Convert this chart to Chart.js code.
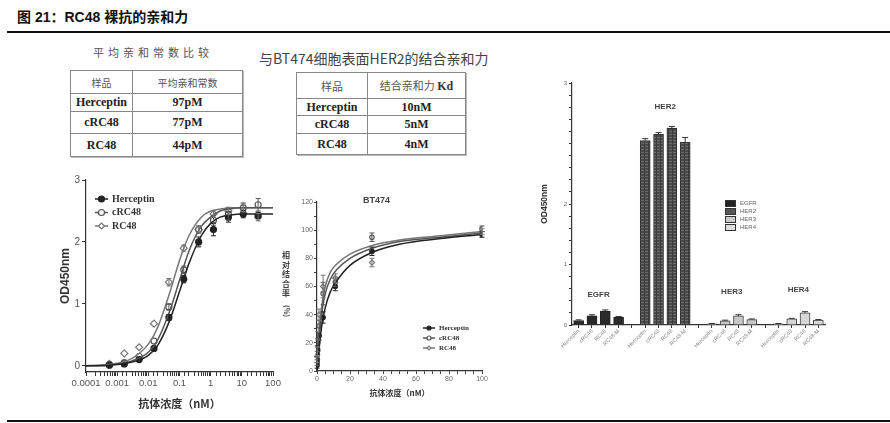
<!DOCTYPE html>
<html>
<head>
<meta charset="utf-8">
<script src="https://cdn.jsdelivr.net/npm/chart.js@4.4.0/dist/chart.umd.min.js"></script>
<style>
  body { margin: 0; background: #fff; }
  #page { position: relative; width: 890px; height: 423px; overflow: hidden; font-family: "Liberation Sans", "Noto Sans CJK SC", sans-serif; }
  .abs { position: absolute; }
  #fig-title { left: 17px; top: 6px; font-size: 14px; font-weight: bold; color: #111; white-space: nowrap; }
  #top-rule { left: 7px; top: 31px; width: 883px; height: 2px; background: #111; }
  #bottom-rule { left: 7px; top: 420px; width: 883px; height: 2px; background: #111; }
  .tbl-title { color: #555; white-space: nowrap; font-family: "Noto Sans CJK SC", sans-serif; }
  table.aff { position: absolute; border-collapse: collapse; table-layout: fixed; border: 1.5px solid #666; box-shadow: 1px 1px 0 #bbb; }
  table.aff td { border: 1px solid #888; text-align: center; padding: 0; color: #222; }
  table.aff td.h { font-family: "Noto Sans CJK SC", sans-serif; color: #555; font-size: 10px; }
  table.aff td.v { font-family: "Liberation Serif", serif; font-weight: bold; font-size: 12px; }
  .box { position: absolute; }
  .vlabel { font-family: "Noto Sans CJK SC", sans-serif; font-weight: bold; font-size: 8px; color: #444; width: 10px; text-align: center; line-height: 9.5px; }
  #bar-legend { font-size: 6px; color: #666; line-height: 8px; }
  #bar-legend span.sw { display: inline-block; width: 9px; height: 5px; border: 1px solid #333; margin-right: 4px; vertical-align: middle; }
</style>
</head>
<body>
<div id="page">
  <div id="fig-title" class="abs">图 21：RC48 裸抗的亲和力</div>
  <div id="top-rule" class="abs"></div>
  <div id="bottom-rule" class="abs"></div>

  <div class="abs tbl-title" style="left:93px;top:44px;font-size:11px;letter-spacing:4px;">平均亲和常数比较</div>
  <table class="aff" style="left:70px;top:70px;width:173px;height:86px;">
    <colgroup><col style="width:62px"><col></colgroup>
    <tr style="height:23px"><td class="h">样品</td><td class="h">平均亲和常数</td></tr>
    <tr style="height:18px"><td class="v">Herceptin</td><td class="v">97pM</td></tr>
    <tr style="height:22px"><td class="v">cRC48</td><td class="v">77pM</td></tr>
    <tr style="height:23px"><td class="v">RC48</td><td class="v">44pM</td></tr>
  </table>

  <div class="abs tbl-title" style="left:259px;top:48px;font-size:14px;color:#444;">与BT474细胞表面HER2的结合亲和力</div>
  <table class="aff" style="left:296px;top:72px;width:170px;height:82px;">
    <colgroup><col style="width:71px"><col></colgroup>
    <tr style="height:26px"><td class="h" style="font-size:11px">样品</td><td class="h" style="font-size:11px">结合亲和力 <b style="font-family:'Liberation Serif';color:#333;font-size:12px">Kd</b></td></tr>
    <tr style="height:17px"><td class="v">Herceptin</td><td class="v">10nM</td></tr>
    <tr style="height:18px"><td class="v">cRC48</td><td class="v">5nM</td></tr>
    <tr style="height:21px"><td class="v">RC48</td><td class="v">4nM</td></tr>
  </table>

  <div class="box" style="left:58px;top:172px;width:227px;height:238px;"><canvas id="odChart"></canvas></div>

  <div class="box" style="left:295px;top:195px;width:205px;height:203px;"><canvas id="btChart"></canvas></div>
  <div class="abs" style="left:363px;top:195px;font-size:9px;font-weight:bold;color:#444;">BT474</div>
  <div class="abs vlabel" style="left:281px;top:250px;">相<br>对<br>结<br>合<br>率</div>
  <div class="abs vlabel" style="left:281px;top:305px;font-size:7px;writing-mode:vertical-rl;">(%)</div>

  <div class="box" style="left:540px;top:75px;width:300px;height:290px;"><canvas id="barChart"></canvas></div>
  <div id="bar-legend" class="abs" style="left:725px;top:199px;">
    <div><span class="sw" style="background:#222"></span>EGFR</div>
    <div><span class="sw" style="background:#555"></span>HER2</div>
    <div><span class="sw" style="background:#ccc"></span>HER3</div>
    <div><span class="sw" style="background:#ddd"></span>HER4</div>
  </div>
</div>

<script>
// ---- data: left panel, OD450 vs antibody concentration ----
const seriesNames = ["Herceptin", "cRC48", "RC48"];
const odConc = [0.000564, 0.00169, 0.00508, 0.0152, 0.0457, 0.137, 0.412, 1.23, 3.70, 11.1, 33.3];
const odHerceptin = [0.01, 0.03, 0.10, 0.28, 0.78, 1.40, 2.00, 2.20, 2.40, 2.45, 2.43];
const odCRC48 = [0.02, 0.05, 0.15, 0.40, 0.95, 1.55, 2.20, 2.35, 2.45, 2.55, 2.60];
const odRC48 = [0.03, 0.20, 0.30, 0.68, 1.35, 1.90, 2.20, 2.45, 2.50, 2.55, 2.40];
const odErrHerceptin = [0, 0, 0, 0, 0.05, 0.06, 0.08, 0.10, 0.08, 0.06, 0.05];
const odErrCRC48 = [0, 0, 0, 0, 0.05, 0.06, 0.06, 0.08, 0.10, 0.08, 0.10];
const odErrRC48 = [0, 0, 0, 0, 0.06, 0.05, 0.05, 0.05, 0.06, 0.06, 0.06];
// fitted curves
const odFitConc = [0.0001, 0.0003, 0.001, 0.003, 0.01, 0.02, 0.05, 0.1, 0.2, 0.5, 1, 2, 5, 10, 30, 100];
const odFitHerceptin = [0.0, 0.0, 0.02, 0.06, 0.17, 0.33, 0.75, 1.20, 1.65, 2.10, 2.30, 2.40, 2.44, 2.45, 2.45, 2.45];
const odFitCRC48 = [0.0, 0.01, 0.03, 0.08, 0.22, 0.42, 0.90, 1.38, 1.85, 2.25, 2.40, 2.50, 2.54, 2.55, 2.55, 2.55];
const odFitRC48 = [0.0, 0.01, 0.04, 0.12, 0.35, 0.62, 1.20, 1.70, 2.10, 2.40, 2.50, 2.53, 2.55, 2.55, 2.55, 2.55];
const odXTickLabels = ["0.0001", "0.001", "0.01", "0.1", "1", "10", "100"];
const odYTicks = [0, 1, 2, 3];

// ---- data: middle panel, BT474 relative binding ----
const btConc = [0.046, 0.137, 0.41, 1.23, 3.7, 11.1, 33.3, 100];
const btHerceptin = [4, 8, 15, 25, 38, 60, 85, 97];
const btCRC48 = [6, 12, 20, 32, 55, 63, 95, 101];
const btRC48 = [8, 14, 25, 40, 60, 66, 77, 99];
const btErrHerceptin = [2, 2, 3, 3, 4, 3, 3, 2];
const btErrCRC48 = [2, 2, 3, 4, 8, 3, 3, 2];
const btErrRC48 = [2, 3, 3, 4, 8, 3, 3, 2];
const btFitConc = [0, 0.5, 1, 2, 3, 5, 8, 12, 20, 33, 50, 75, 100];
const btFitHerceptin = [0, 7, 13, 24, 33, 45, 56, 64, 75, 84, 90, 94, 97];
const btFitCRC48 = [0, 10, 19, 32, 42, 55, 65, 72, 80, 87, 92, 95, 98];
const btFitRC48 = [0, 12, 22, 37, 47, 60, 70, 76, 83, 89, 93, 96, 99];

// ---- data: right panel, binding to EGFR family ----
const receptorNames = ["EGFR", "HER2", "HER3", "HER4"];
const sampleNames = ["Herceptin", "cRC48", "RC48", "RC48-M"];
const egfrValues = [0.075, 0.15, 0.23, 0.13];
const her2Values = [3.05, 3.15, 3.25, 3.02];
const her3Values = [0.02, 0.07, 0.15, 0.09];
const her4Values = [0.02, 0.10, 0.20, 0.08];
const egfrErr = [0.01, 0.02, 0.02, 0.01];
const her2Err = [0.03, 0.03, 0.03, 0.08];
const her3Err = [0.005, 0.01, 0.02, 0.01];
const her4Err = [0.005, 0.01, 0.02, 0.01];
const barYTicks = [[0, "0"], [1, "1"], [2, "2"], [4, "3"]];

const seriesColor = ["#222", "#555", "#777"];
const seriesFill = ["#222", "#fff", "#fff"];
const seriesStyle = ["circle", "circle", "rectRot"];

// ---- small plugins ----
const errorBars = {
  id: "errorBars",
  afterDatasetsDraw(chart) {
    const ctx = chart.ctx;
    chart.data.datasets.forEach((ds, i) => {
      if (!ds.errors) return;
      const meta = chart.getDatasetMeta(i);
      if (meta.hidden) return;
      const ys = chart.scales[meta.yAxisID];
      ctx.save();
      ctx.strokeStyle = ds.errorColor || ds.borderColor;
      ctx.lineWidth = 1;
      meta.data.forEach((el, j) => {
        const raw = ds.data[j];
        const e = ds.errors[j];
        if (raw == null || !e) return;
        const v = typeof raw === "object" ? raw.y : raw;
        const top = ys.getPixelForValue(v + e);
        const bot = ds.errorUpOnly ? ys.getPixelForValue(v) : ys.getPixelForValue(v - e);
        const cap = ds.errorCap || 3;
        ctx.beginPath();
        ctx.moveTo(el.x, top); ctx.lineTo(el.x, bot);
        ctx.moveTo(el.x - cap, top); ctx.lineTo(el.x + cap, top);
        if (!ds.errorUpOnly) { ctx.moveTo(el.x - cap, bot); ctx.lineTo(el.x + cap, bot); }
        ctx.stroke();
      });
      ctx.restore();
    });
  }
};

const inlineLegend = {
  id: "inlineLegend",
  afterDraw(chart, args, opts) {
    if (!opts.items) return;
    const { ctx, chartArea } = chart;
    ctx.save();
    opts.items.forEach((it, i) => {
      const x = chartArea.left + opts.x;
      const y = chartArea.top + opts.y + i * opts.gap;
      ctx.strokeStyle = it.color;
      ctx.lineWidth = 1.5;
      ctx.beginPath(); ctx.moveTo(x, y); ctx.lineTo(x + opts.len, y); ctx.stroke();
      ctx.fillStyle = it.fill;
      ctx.lineWidth = 1.2;
      Chart.helpers.drawPoint(ctx, { pointStyle: it.style, radius: opts.radius, borderWidth: 1.2, rotation: 0 }, x + opts.len / 2, y);
      ctx.fillStyle = "#333";
      ctx.font = opts.font;
      ctx.textBaseline = "middle";
      ctx.fillText(it.text, x + opts.len + 4, y);
    });
    ctx.restore();
  }
};

const groupLabels = {
  id: "groupLabels",
  afterDatasetsDraw(chart, args, opts) {
    if (!opts.groups) return;
    const ctx = chart.ctx;
    ctx.save();
    ctx.font = opts.font;
    ctx.fillStyle = "#444";
    ctx.textAlign = "center";
    ctx.textBaseline = "bottom";
    opts.groups.forEach(g => {
      const meta = chart.getDatasetMeta(g.dataset);
      const els = meta.data.filter((el, j) => chart.data.datasets[g.dataset].data[j] != null);
      const cx = els.reduce((s, el) => s + el.x, 0) / els.length;
      const top = Math.min(...els.map(el => el.y));
      ctx.fillText(g.text, cx, top - g.lift);
    });
    ctx.restore();
  }
};

function axisLook(extra) {
  return Object.assign({
    border: { display: true, color: "#333", width: 1.2 },
    grid: { display: true, drawOnChartArea: false, drawTicks: true, tickLength: 4, color: "#333" }
  }, extra);
}

function pointSet(name, xs, ys, errs, k, radius) {
  return {
    label: name,
    data: xs.map((x, i) => ({ x: x, y: ys[i] })),
    errors: errs,
    showLine: false,
    pointStyle: seriesStyle[k],
    pointRadius: radius,
    pointBorderWidth: 1.2,
    borderColor: seriesColor[k],
    backgroundColor: seriesFill[k],
    errorCap: 2.5
  };
}

function fitSet(name, xs, ys, k) {
  return {
    label: name + " fit",
    data: xs.map((x, i) => ({ x: x, y: ys[i] })),
    showLine: true,
    pointRadius: 0,
    borderColor: seriesColor[k],
    borderWidth: 1.5,
    cubicInterpolationMode: "monotone"
  };
}

const legendItems = seriesNames.map((n, k) => ({ text: n, color: seriesColor[k], fill: seriesFill[k], style: seriesStyle[k] }));

// ---- left chart ----
new Chart(document.getElementById("odChart"), {
  type: "scatter",
  data: {
    datasets: [
      fitSet(seriesNames[0], odFitConc, odFitHerceptin, 0),
      fitSet(seriesNames[1], odFitConc, odFitCRC48, 1),
      fitSet(seriesNames[2], odFitConc, odFitRC48, 2),
      pointSet(seriesNames[0], odConc, odHerceptin, odErrHerceptin, 0, 3),
      pointSet(seriesNames[1], odConc, odCRC48, odErrCRC48, 1, 3),
      pointSet(seriesNames[2], odConc, odRC48, odErrRC48, 2, 3.5)
    ]
  },
  options: {
    responsive: true, maintainAspectRatio: false, animation: false,
    layout: { padding: { top: 7, right: 12, left: 0, bottom: 0 } },
    plugins: {
      legend: { display: false }, tooltip: { enabled: false },
      inlineLegend: { items: legendItems, x: 9, y: 19, gap: 13.5, len: 13, radius: 3, font: "bold 10px 'Liberation Serif'" }
    },
    scales: {
      x: axisLook({
        type: "logarithmic", min: 0.0001, max: 100,
        afterFit(s) { s.height = 38; },
        ticks: {
          autoSkip: false, maxRotation: 0, color: "#555", font: { size: 9.5 }, padding: 2,
          callback(v) {
            const p = Math.log10(v);
            if (Math.abs(p - Math.round(p)) > 1e-6) return "";
            return odXTickLabels[Math.round(p) + 4] || "";
          }
        },
        title: { display: true, text: "抗体浓度（nM）", color: "#333", font: { size: 11, weight: "bold", family: "'Noto Sans CJK SC'" }, padding: { top: 4, bottom: 0 } }
      }),
      y: axisLook({
        min: -0.1, max: 3,
        afterFit(s) { s.width = 28; },
        afterBuildTicks(s) { s.ticks = odYTicks.map(v => ({ value: v })); },
        ticks: { color: "#555", font: { size: 10 }, padding: 2 },
        title: { display: true, text: "OD450nm", color: "#333", font: { size: 12, weight: "bold" }, padding: 0 }
      })
    }
  },
  plugins: [errorBars, inlineLegend]
});

// ---- middle chart ----
new Chart(document.getElementById("btChart"), {
  type: "scatter",
  data: {
    datasets: [
      fitSet(seriesNames[0], btFitConc, btFitHerceptin, 0),
      fitSet(seriesNames[1], btFitConc, btFitCRC48, 1),
      fitSet(seriesNames[2], btFitConc, btFitRC48, 2),
      pointSet(seriesNames[0], btConc, btHerceptin, btErrHerceptin, 0, 2.2),
      pointSet(seriesNames[1], btConc, btCRC48, btErrCRC48, 1, 2.2),
      pointSet(seriesNames[2], btConc, btRC48, btErrRC48, 2, 2.6)
    ]
  },
  options: {
    responsive: true, maintainAspectRatio: false, animation: false,
    layout: { padding: { top: 7, right: 18, left: 0, bottom: 0 } },
    plugins: {
      legend: { display: false }, tooltip: { enabled: false },
      inlineLegend: { items: legendItems, x: 106, y: 126, gap: 10, len: 12, radius: 2, font: "bold 7px 'Liberation Serif'" }
    },
    scales: {
      x: axisLook({
        type: "linear", min: 0, max: 100,
        afterFit(s) { s.height = 27; },
        ticks: { stepSize: 5, autoSkip: false, maxRotation: 0, color: "#666", font: { size: 7 }, padding: 1,
          callback(v) { return v % 20 === 0 ? String(v) : ""; } },
        grid: { display: true, drawOnChartArea: false, drawTicks: true, tickLength: 3, color: "#444" },
        title: { display: true, text: "抗体浓度（nM）", color: "#333", font: { size: 8, weight: "bold", family: "'Noto Sans CJK SC'" }, padding: { top: 4, bottom: 0 } }
      }),
      y: axisLook({
        min: 0, max: 120,
        afterFit(s) { s.width = 22; },
        ticks: { stepSize: 10, color: "#666", font: { size: 7 }, padding: 1,
          callback(v) { return v % 20 === 0 ? String(v) : ""; } },
        grid: { display: true, drawOnChartArea: false, drawTicks: true, tickLength: 3, color: "#444" }
      })
    }
  },
  plugins: [errorBars, inlineLegend]
});

// ---- right chart ----
const groupValues = [egfrValues, her2Values, her3Values, her4Values];
const groupErrors = [egfrErr, her2Err, her3Err, her4Err];
const barLabels = [];
receptorNames.forEach((r, g) => {
  if (g > 0) barLabels.push("");
  sampleNames.forEach(s => barLabels.push(s));
});
function slotData(arr, g) {
  const out = barLabels.map(() => null);
  arr.forEach((v, i) => { out[g * 5 + i] = v; });
  return out;
}

const stripe = document.createElement("canvas");
stripe.width = 4; stripe.height = 3;
const sctx = stripe.getContext("2d");
sctx.fillStyle = "#4a4a4a"; sctx.fillRect(0, 0, 4, 3);
sctx.fillStyle = "#6a6a6a"; sctx.fillRect(0, 2, 4, 1);
sctx.fillStyle = "#3a3a3a"; sctx.fillRect(0, 0, 1, 3);
const her2Fill = sctx.createPattern(stripe, "repeat");

const barFills = ["#2a2a2a", her2Fill, "#c8c8c8", "#d6d6d6"];
const barBorders = ["#222", "#333", "#444", "#444"];

new Chart(document.getElementById("barChart"), {
  type: "bar",
  data: {
    labels: barLabels,
    datasets: receptorNames.map((r, g) => ({
      label: r,
      data: slotData(groupValues[g], g),
      errors: slotData(groupErrors[g], g),
      errorUpOnly: true,
      errorColor: "#333",
      errorCap: 3,
      backgroundColor: barFills[g],
      borderColor: barBorders[g],
      borderWidth: 1,
      barThickness: 10,
      grouped: false
    }))
  },
  options: {
    responsive: true, maintainAspectRatio: false, animation: false,
    layout: { padding: { top: 8, right: 15, left: 0, bottom: 0 } },
    plugins: {
      legend: { display: false }, tooltip: { enabled: false },
      groupLabels: {
        font: "bold 8px 'Liberation Sans'",
        groups: [
          { text: "EGFR", dataset: 0, lift: 12 },
          { text: "HER2", dataset: 1, lift: 18 },
          { text: "HER3", dataset: 2, lift: 20 },
          { text: "HER4", dataset: 3, lift: 19 }
        ]
      }
    },
    scales: {
      x: axisLook({
        afterFit(s) { s.height = 40; },
        ticks: { autoSkip: false, minRotation: 45, maxRotation: 45, color: "#888", font: { size: 5.5 }, padding: 0 },
        grid: { display: true, drawOnChartArea: false, drawTicks: true, tickLength: 3, color: "#333", offset: false }
      }),
      y: axisLook({
        min: 0, max: 4,
        afterFit(s) { s.width = 32; },
        afterBuildTicks(s) {
          const ticks = [];
          for (let i = 0; i <= 20; i++) ticks.push({ value: i * 0.2 });
          s.ticks = ticks;
        },
        ticks: { color: "#666", font: { size: 6 }, padding: 2,
          callback(v) {
            const hit = barYTicks.find(t => Math.abs(t[0] - v) < 1e-6);
            return hit ? hit[1] : "";
          } },
        grid: { display: true, drawOnChartArea: false, drawTicks: true, tickLength: 3, color: "#333" },
        title: { display: true, text: "OD450nm", color: "#333", font: { size: 8.5, weight: "bold" }, padding: 0 }
      })
    }
  },
  plugins: [errorBars, groupLabels]
});
</script>
</body>
</html>
